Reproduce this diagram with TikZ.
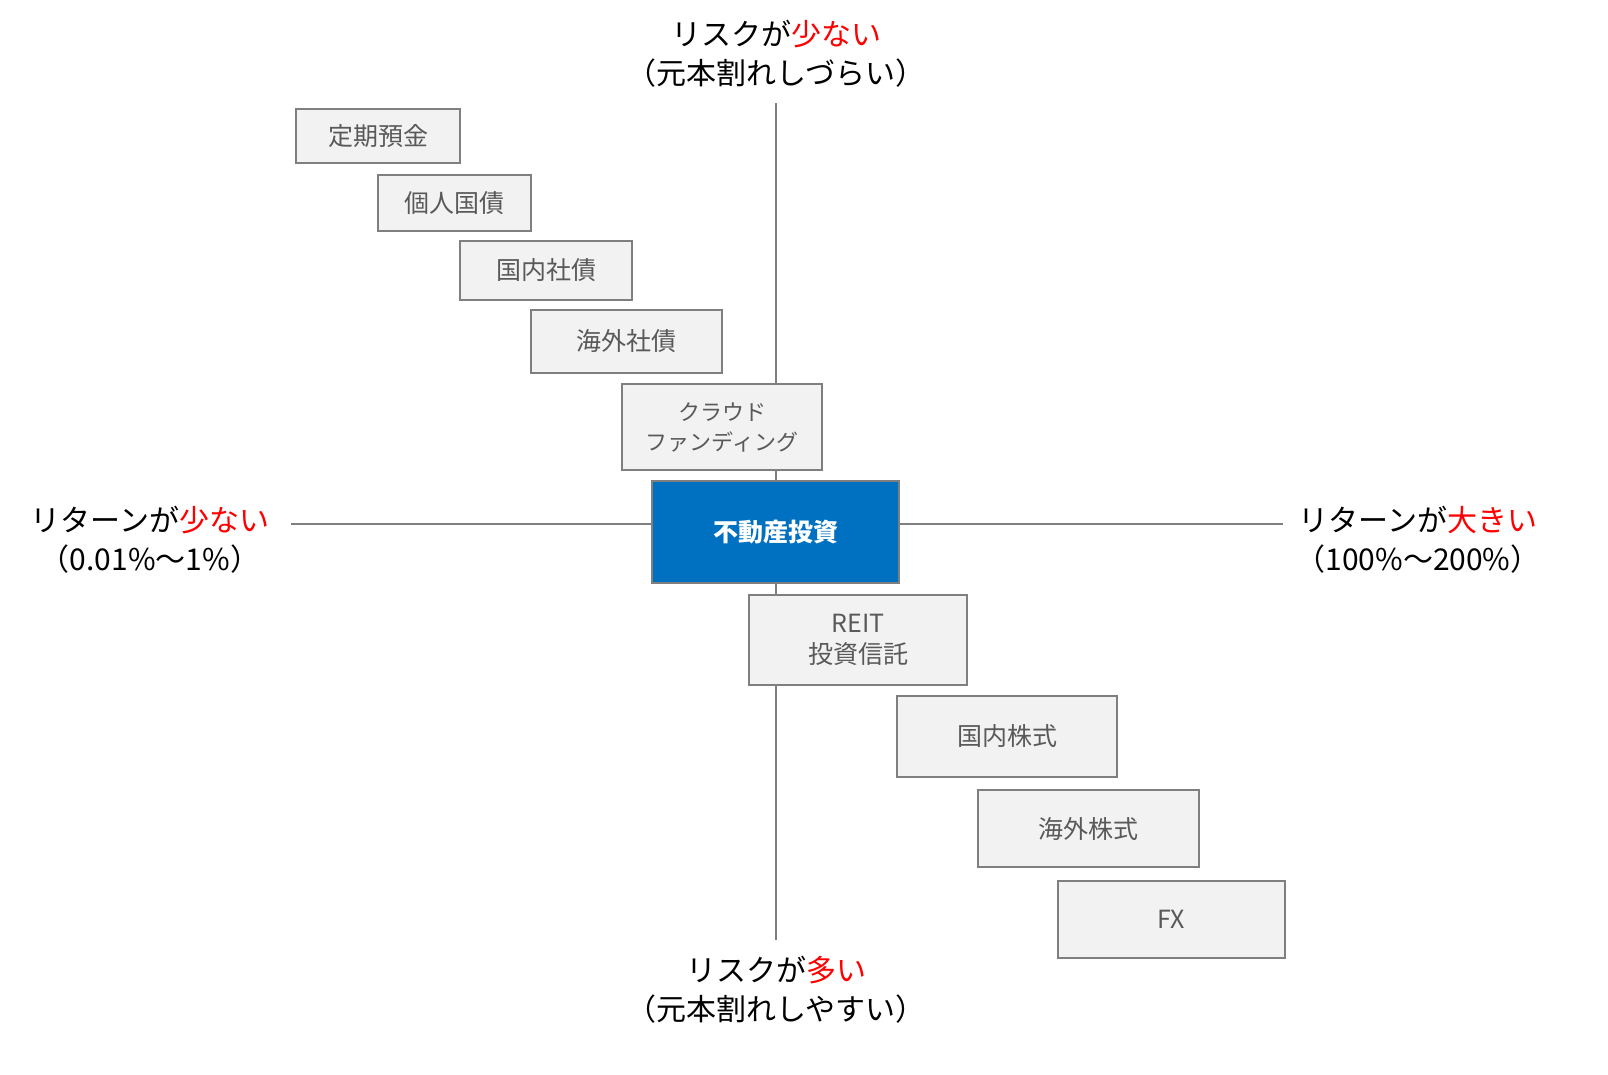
\documentclass[tikz,border=0pt]{standalone}
\usepackage{fontspec}
\setmainfont{Noto Sans CJK JP}
\definecolor{boxfill}{HTML}{F2F2F2}
\definecolor{boxline}{HTML}{7F7F7F}
\definecolor{boxtext}{HTML}{595959}
\definecolor{mainblue}{HTML}{0070C0}
\tikzset{
  item/.style={draw=boxline, fill=boxfill, line width=1.2pt, text=boxtext, align=center,
    font=\fontsize{25}{31}\selectfont, inner sep=0pt},
  axislabel/.style={align=center, font=\fontsize{30}{39}\selectfont, inner sep=0pt},
}
\begin{document}
\begin{tikzpicture}[x=1pt,y=1pt,yscale=-1]
\useasboundingbox (0,0) rectangle (1608,1074);

% axes
\coordinate (top) at (776,103);
\coordinate (bottom) at (776,940);
\coordinate (left) at (291,524);
\coordinate (right) at (1283,524);
\draw [boxline, line width=1.2pt] (top) -- (bottom);
\draw [boxline, line width=1.2pt] (left) -- (right);

% boxes
\node [item, minimum width=164, minimum height=54] (teiki) at (378,136) {定期預金};
\node [item, minimum width=153, minimum height=56] (kojin) at (454.5,203) {個人国債};
\node [item, minimum width=172, minimum height=59] (kokunaisha) at (546,270.5) {国内社債};
\node [item, minimum width=191, minimum height=63] (kaigaisha) at (626.5,341.5) {海外社債};
\node [item, minimum width=200, minimum height=86, font=\fontsize{22}{30}\selectfont] (crowd) at (722,427) {クラウド\\ファンディング};
\node [draw=boxline, fill=mainblue, line width=1.2pt, text=white, font=\bfseries\fontsize{25}{30}\selectfont,
  minimum width=247, minimum height=102, inner sep=0pt] (fudosan) at (775.5,532) {不動産投資};
\node [item, minimum width=218, minimum height=90] (reit) at (858,640) {REIT\\投資信託};
\node [item, minimum width=220, minimum height=81] (kokunaikabu) at (1007,736.5) {国内株式};
\node [item, minimum width=221, minimum height=77] (kaigaikabu) at (1088.5,828.5) {海外株式};
\node [item, minimum width=227, minimum height=77] (fx) at (1171.5,919.5) {FX};

% axis labels
\node [axislabel] (lowrisk) at (776,54) {リスクが\textcolor{red}{少ない}\\（元本割れしづらい）};
\node [axislabel] (highrisk) at (776,990) {リスクが\textcolor{red}{多い}\\（元本割れしやすい）};
\node [axislabel] (lowret) at (150,540) {リターンが\textcolor{red}{少ない}\\（0.01\%～1\%）};
\node [axislabel] (highret) at (1418,540) {リターンが\textcolor{red}{大きい}\\（100\%～200\%）};
\end{tikzpicture}
\end{document}
